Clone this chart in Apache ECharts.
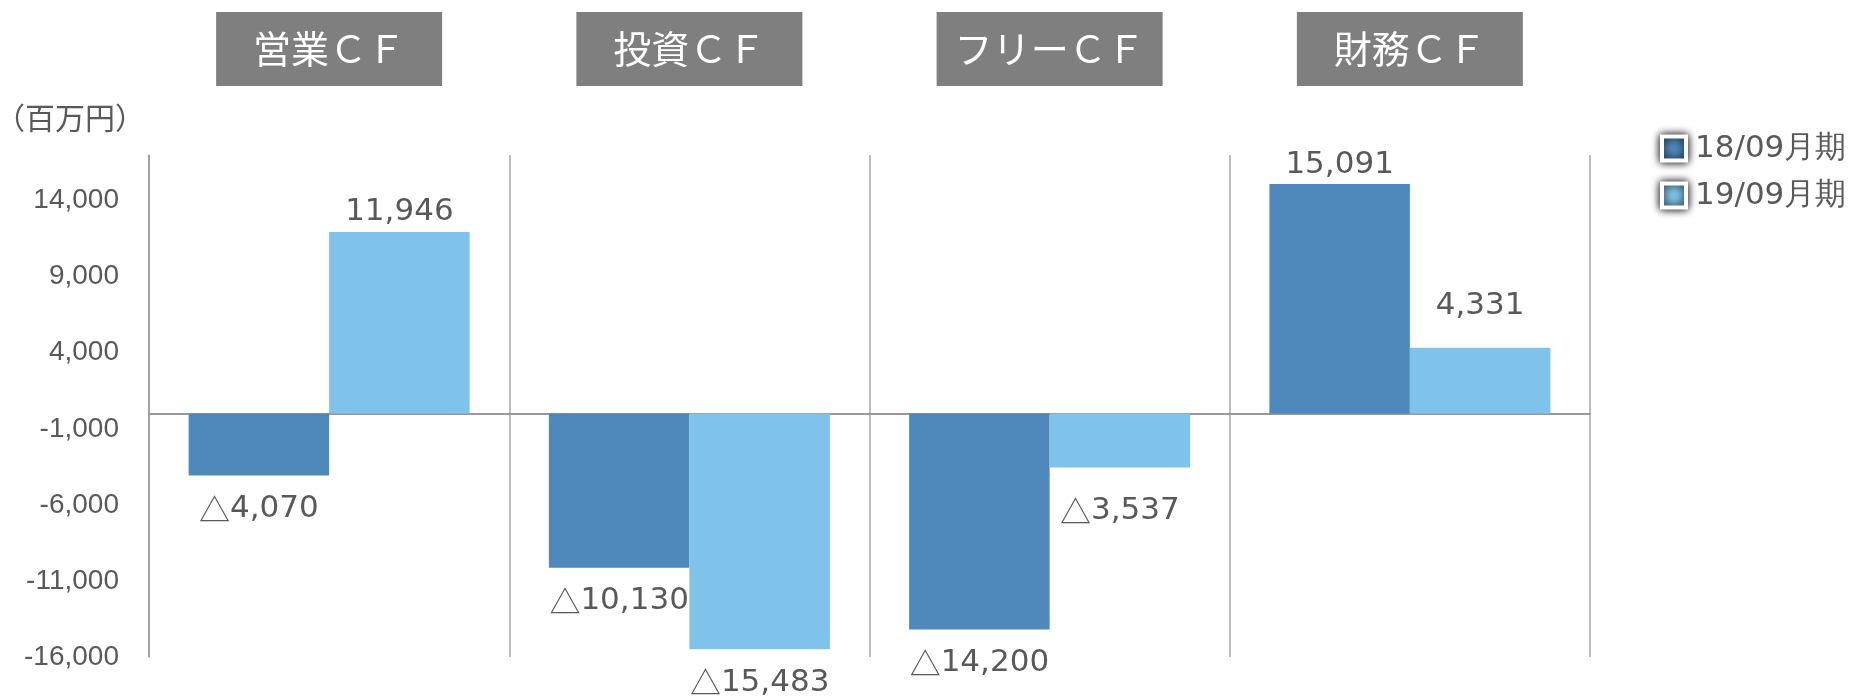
<!DOCTYPE html>
<html>
<head>
<meta charset="utf-8">
<script src="https://cdn.jsdelivr.net/npm/echarts@6/dist/echarts.min.js"></script>
<style>
html, body { margin: 0; padding: 0; background: #fff; }
#main { width: 1864px; height: 700px; }
</style>
</head>
<body>
<div id="main"></div>
<script>
// data (百万円)
var categories = ['営業ＣＦ', '投資ＣＦ', 'フリーＣＦ', '財務ＣＦ'];
var seriesNames = ['18/09月期', '19/09月期'];
var fy2018 = [-4070, -10130, -14200, 15091];
var fy2019 = [11946, -15483, -3537, 4331];
var yTicks = [14000, 9000, 4000, -1000, -6000, -11000, -16000];

var textColor = '#595959';
var colors = ['#4f89bb', '#7fc2ea'];

function fmt(v) {
    return v < 0 ? '{t|△}' + Math.abs(v).toLocaleString('en-US') : v.toLocaleString('en-US');
}

// negative bars get the label under the bar; a couple of labels sit a bit further off in the original
function buildData(values, lift) {
    return values.map(function (v, i) {
        return {
            value: v,
            label: {
                position: v < 0 ? 'bottom' : 'top',
                distance: (v < 0 ? 18 : 4) + (lift[i] || 0)
            }
        };
    });
}

function makeSeries(name, values, color, lift) {
    return {
        name: name,
        type: 'bar',
        xAxisIndex: 0,
        barGap: '0%',
        barCategoryGap: '22%',
        itemStyle: { color: color },
        label: {
            show: true,
            color: textColor,
            fontSize: 31,
            fontFamily: 'DejaVu Sans',
            formatter: function (p) { return fmt(p.value); },
            rich: {
                t: { fontSize: 31, color: textColor, fontFamily: 'Noto Sans CJK JP' }
            }
        },
        data: buildData(values, lift)
    };
}

var myChart = echarts.init(document.getElementById('main'));
var option = {
    animation: false,
    grid: { left: 149, right: 274, top: 155, bottom: 43, outerBoundsMode: 'none' },
    legend: {
        orient: 'vertical',
        left: 1655,
        top: 128,
        icon: 'rect',
        itemWidth: 24,
        itemHeight: 24,
        itemGap: 16,
        itemStyle: { borderColor: '#fff', borderWidth: 4, shadowBlur: 8, shadowColor: 'rgba(0,0,0,1)' },
        textStyle: { color: textColor, fontSize: 31, fontFamily: 'DejaVu Sans', padding: [0, 0, 0, 4] },
        data: seriesNames
    },
    xAxis: [
        {
            type: 'category',
            data: categories,
            position: 'bottom',
            axisLine: { onZero: true, lineStyle: { color: '#999', width: 2 } },
            axisTick: { show: false },
            axisLabel: { show: false },
            splitLine: { show: true, lineStyle: { color: '#a6a6a6', width: 1.5 } }
        },
        {
            type: 'category',
            data: categories,
            position: 'top',
            axisLine: { show: false, onZero: false },
            axisTick: { show: false },
            splitLine: { show: false },
            axisLabel: {
                interval: 0,
                margin: 69,
                color: '#fff',
                fontSize: 38,
                fontFamily: 'Noto Sans CJK JP',
                backgroundColor: '#7f7f7f',
                width: 226,
                height: 74,
                lineHeight: 74,
                align: 'center'
            }
        }
    ],
    yAxis: {
        type: 'value',
        min: -16000,
        max: 17000,
        interval: 1000,
        name: '（百万円）',
        nameLocation: 'end',
        nameGap: 22,
        nameTextStyle: {
            color: textColor,
            fontSize: 30,
            fontFamily: 'Noto Sans CJK JP',
            align: 'right',
            padding: [0, 4, 0, 0]
        },
        axisLine: { show: true, lineStyle: { color: '#999', width: 1.5 } },
        axisTick: { show: false },
        splitLine: { show: false },
        axisLabel: {
            color: textColor,
            fontSize: 28,
            fontFamily: 'Liberation Sans',
            margin: 30,
            padding: [0, 0, 10, 0],
            formatter: function (v) {
                return yTicks.indexOf(v) >= 0 ? v.toLocaleString('en-US') : '';
            }
        }
    },
    series: [
        makeSeries(seriesNames[0], fy2018, colors[0], {}),
        makeSeries(seriesNames[1], fy2019, colors[1], { 2: 10, 3: 22 })
    ]
};
myChart.setOption(option);
</script>
</body>
</html>
